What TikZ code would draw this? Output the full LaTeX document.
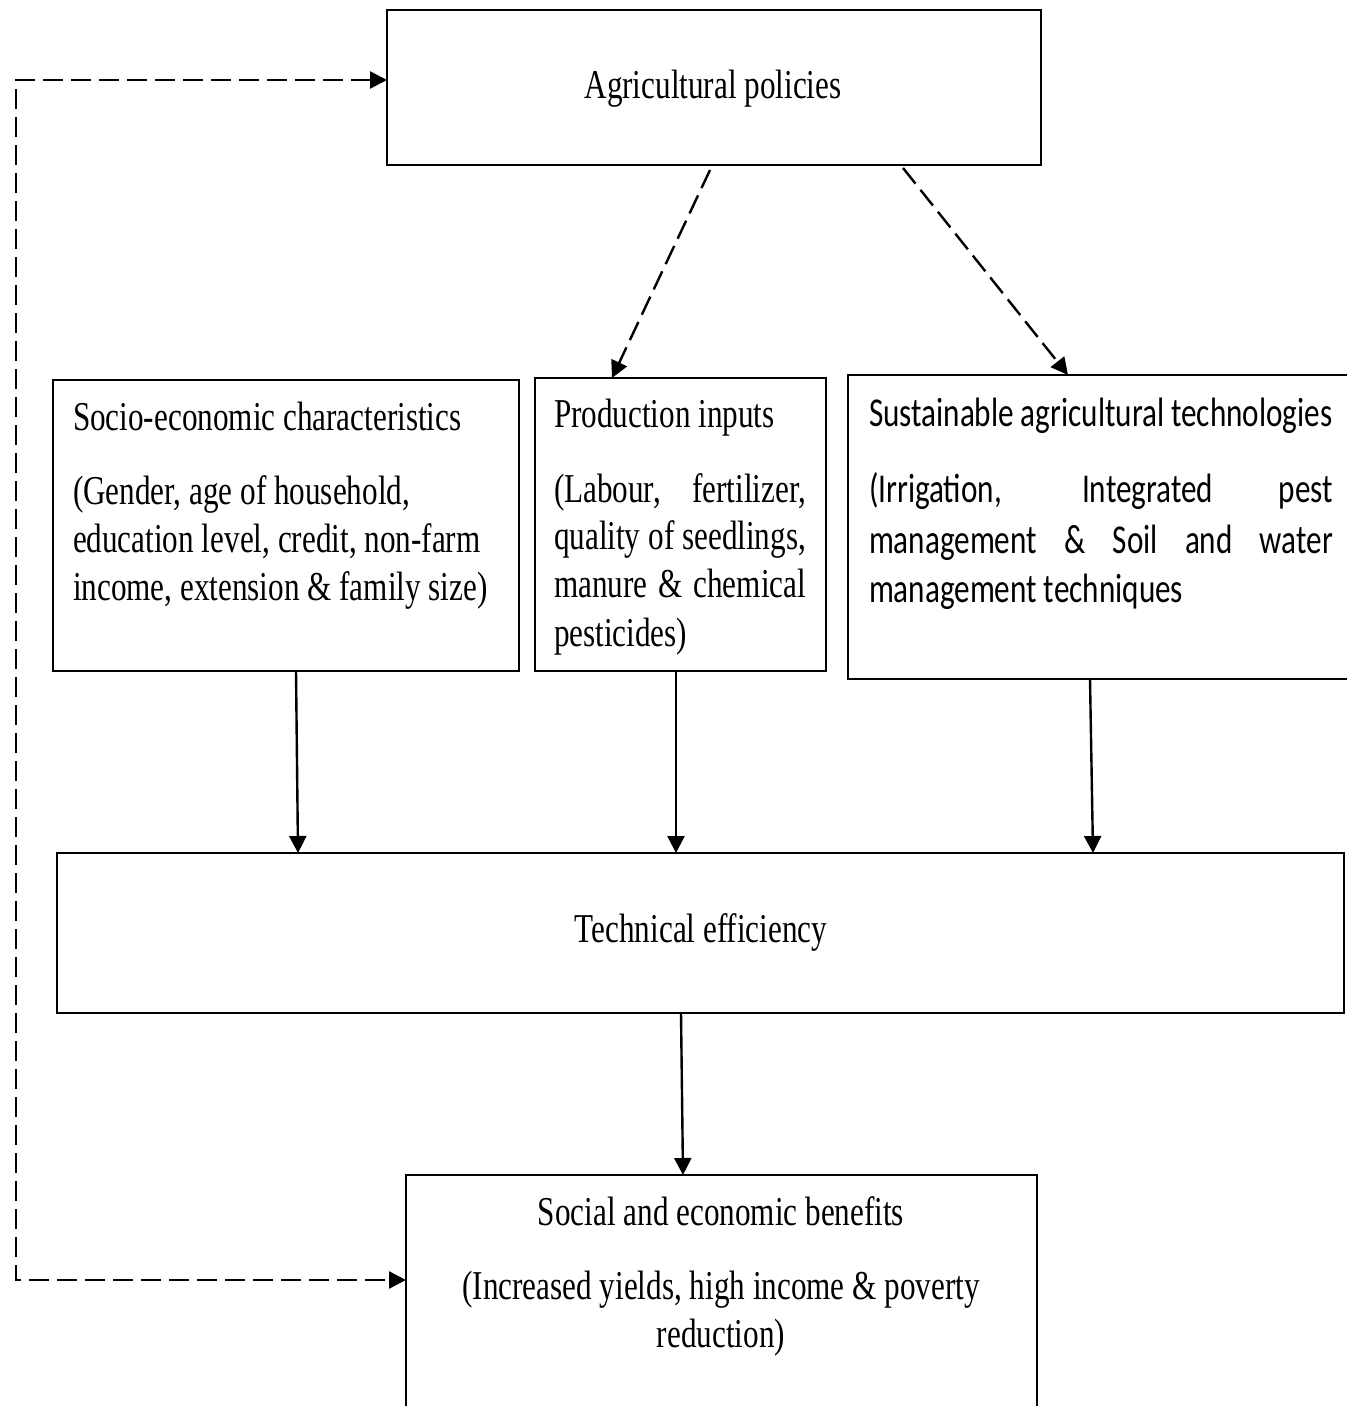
\documentclass[tikz,border=0pt]{standalone}
\usepackage{fontspec}
\setmainfont[FakeStretch=0.76]{Liberation Serif}
\newfontfamily\calibfont[FakeStretch=0.76]{Carlito}
\usetikzlibrary{arrows.meta}
\newcommand\myseriffont{\fontsize{20.5pt}{24pt}\selectfont}
\newcommand\mycalibfont{\calibfont\fontsize{20.5pt}{25pt}\selectfont}
\newcommand\serifsp{\spaceskip=3.9pt plus 6pt minus 1pt\xspaceskip=0pt\relax}
\newcommand\serifspfixed{\spaceskip=3.9pt\xspaceskip=3.9pt\relax}
\newcommand\calibsp{\spaceskip=3.5pt plus 8pt minus 1pt\xspaceskip=0pt\relax}
\begin{document}
\begin{tikzpicture}[x=0.5pt,y=-0.5pt,
  box/.style={draw=black, line width=1.1pt, rectangle, inner sep=0pt, outer sep=0pt, anchor=north west},
  txt/.style={inner sep=0pt, outer sep=0pt, font=\myseriffont},
  ctxt/.style={inner sep=0pt, outer sep=0pt, font=\mycalibfont},
  solidarrow/.style={line width=1.2pt, -{Triangle[length=8.5pt,width=8.5pt]}},
  dasharrow/.style={line width=1.2pt, dash pattern=on 10pt off 4pt, -{Triangle[length=8.5pt,width=8.5pt]}},
  dashboth/.style={line width=1.2pt, dash pattern=on 10pt off 4pt, {Triangle[length=8.5pt,width=8.5pt]}-{Triangle[length=8.5pt,width=8.5pt]}}
]
\useasboundingbox (0,0) rectangle (1346,1406);
\fill[white] (0,0) rectangle (1346,1406);

% boxes
\node[box, minimum width=327pt, minimum height=77.5pt] (policy) at (387,10) {};
\node[box, minimum width=233pt, minimum height=145.5pt] (socio) at (53,380) {};
\node[box, minimum width=145.5pt, minimum height=146.5pt] (prod) at (535,378) {};
\node[box, minimum width=252pt, minimum height=152pt] (sust) at (848,375) {};
\node[box, minimum width=643.5pt, minimum height=80pt] (tech) at (57,853) {};
\node[box, minimum width=315.5pt, minimum height=118.5pt] (ben) at (406,1175) {};

% texts
\node[txt, anchor=base] (policyT) at (713,99) {Agricultural policies};
\node[txt, anchor=base west, text width=225pt, align=left] (socioT) at (73,430)
  {\serifsp Socio-economic characteristics\\[13pt]
   (Gender, age of household,\\
   education level, credit, non-farm\\
   income, extension \& family size)};
\node[txt, anchor=base west, text width=126pt, align=left] (prodT) at (554,428)
  {\serifsp Production inputs\\[13pt]
   \makebox[126pt][s]{(Labour, fertilizer,}\\
   \makebox[126pt][s]{quality of seedlings,}\\
   \makebox[126pt][s]{manure \& chemical}\\
   pesticides)};
\node[ctxt, anchor=base west, text width=232pt, align=left] (sustT) at (869,427)
  {\calibsp\mbox{Sustainable agricultural technologies}\\[13pt]
   \makebox[232pt][s]{(Irrigation, Integrated pest}\\
   \makebox[232pt][s]{management \& Soil and water}\\
   management techniques};
\node[txt, anchor=base] (techT) at (701,942) {Technical efficiency};
\node[txt, anchor=base, text width=300pt, align=center] (benT) at (721,1225)
  {\serifspfixed Social and economic benefits\\[13pt]
   (Increased yields, high income \& poverty\\
   reduction)};

% dashed arrows from policy
\coordinate (pA) at (710,170);
\coordinate (pB) at (903,168);
\draw[dasharrow] (pA) -- (612,0 |- prod.north);
\draw[dasharrow] (pB) -- (1068,0 |- sust.north);

% feedback loop
\coordinate (lt) at (16,80);
\coordinate (lb) at (16,1280);
\draw[dashboth] (policy.west |- lt) -- (lt) -- (lb) -- (ben.west |- lb);

% solid arrows
\draw[solidarrow] (296,0 |- socio.south) -- (298,0 |- tech.north);
\draw[solidarrow] (676,0 |- prod.south) -- (676,0 |- tech.north);
\draw[solidarrow] (1090,0 |- sust.south) -- (1093,0 |- tech.north);
\draw[solidarrow] (681,0 |- tech.south) -- (683,0 |- ben.north);
\end{tikzpicture}
\end{document}
